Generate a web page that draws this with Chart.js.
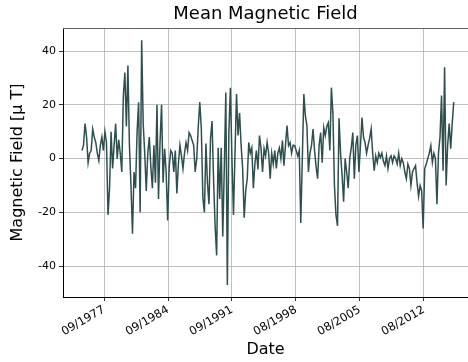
<!DOCTYPE html>
<html lang="en">
<head>
    <meta charset="UTF-8">
    <title>Mean Magnetic Field</title>
    <script src="https://cdn.jsdelivr.net/npm/chart.js"></script>
    <style>
        body {
            margin: 0;
            background-color: white;
        }

        #wrap {
            width: 468px;
            height: 362px;
        }
    </style>
</head>
<body>
    <div id="wrap"><canvas id="fieldChart"></canvas></div>

    <script>
        // samples every two months, starting around 04/1975
        const startYear = 1975.27;
        const stepYears = 1 / 6;

        const fieldValues = [
            3, 5, 13, 8, -1.5, 2, 3, 11, 8, 6,
            2, -0.7, 5, 8, 3, 10, 6, -21, -11, 10,
            -3.7, 5, 13, 0, 7, 2, -5, 23, 32, 12,
            34.6, 5, -10, -28, -5, -11, 10, 21, -20, 44,
            13, 2, -12, 2, 8, -3, -11, 5, -9, 20,
            -15, 6, 20, -9, 3.7, -5, -23, -3, 3, 2,
            -5, 3, -13, -2, 5, 1, -3.7, 2, 6, 3,
            9.7, 8.6, 6.7, 5, -5, 0, 12, 21, 11, -14.5,
            -20, 5.6, -9, -17, 7.5, 14, -8, -25, -36, 4,
            -15, 4, -29, -3.7, 24.6, -47, 10, 26.4, 0, -21,
            2, 24, 8.6, 17, 5, -3.7, -22, -12, -7.5, 6,
            2, 4, -11, -2, 3, -4, 8.6, 4, -5, 3.7,
            1, 6, 2, -7.5, 2, -2, 3, -3.7, 2, 4,
            0, 6.7, -2.6, 5, 12.3, 4.8, 6, 2, 5, 4.8,
            3, 1, 3, -24, 0, 24, 16, 12.3, -5, 2,
            4.8, 11, 3, -3, -7.5, 5, 9.7, -1.5, 11.5, 8.6,
            12, 13.4, 3, 26.4, 16.8, -10, -21, -25, 15, 2,
            -6.3, -16, 0, -5, -11, 0, 4, 9.7, -7.5, 5,
            8.6, -5, 4.8, 15.3, 8, 6, 2, 5, 7.5, 11,
            2, -4.5, 1, -1.5, 2, 0.4, 2, -1, -2.6, 1,
            -3.7, 0, 1, -1.5, 1, 0, -2, 2, -2.6, 0,
            -1.5, -5, -7.5, -2, -3.7, -10, -5, -3.7, -2.6, -9,
            -14, -10, -12, -26, -3.7, -2, 0, 2, 4.8, -1.5,
            2, 0, -17, 2, 8, 23.5, -4.5, 34, -10, 5,
            13, 3.7, 13.4, 21
        ];

        const tickYears = [1977.67, 1984.64, 1991.61, 1998.58, 2005.55, 2012.52];
        const tickLabels = ['09/1977', '09/1984', '09/1991', '08/1998', '08/2005', '08/2012'];
        const yTicks = [-40, -20, 0, 20, 40];

        const points = fieldValues.map((v, i) => ({ x: startYear + i * stepYears, y: v }));

        const font = 'DejaVu Sans';

        // thin top spine like the original frame
        const topFrame = {
            id: 'topFrame',
            afterDraw(chart) {
                const { ctx, chartArea } = chart;
                ctx.save();
                ctx.strokeStyle = '#666';
                ctx.lineWidth = 1;
                ctx.beginPath();
                ctx.moveTo(chartArea.left, chartArea.top + 0.5);
                ctx.lineTo(chartArea.right, chartArea.top + 0.5);
                ctx.stroke();
                ctx.restore();
            }
        };

        new Chart(document.getElementById('fieldChart'), {
            type: 'line',
            data: {
                datasets: [{
                    data: points,
                    borderColor: '#2f4f4f',
                    borderWidth: 1.5,
                    pointRadius: 0,
                    tension: 0
                }]
            },
            options: {
                responsive: true,
                maintainAspectRatio: false,
                animation: false,
                layout: { padding: 0 },
                plugins: {
                    legend: { display: false },
                    tooltip: { enabled: false },
                    title: {
                        display: true,
                        text: 'Mean Magnetic Field',
                        color: '#000',
                        fullSize: false,
                        font: { family: font, size: 18, weight: 'normal', lineHeight: 1.2 },
                        padding: { top: 4, bottom: 2.4 }
                    }
                },
                scales: {
                    x: {
                        type: 'linear',
                        min: 1973.2,
                        max: 2017.32,
                        afterBuildTicks: s => { s.ticks = tickYears.map(v => ({ value: v })); },
                        afterFit: s => { s.height = 65; },
                        ticks: {
                            color: '#000',
                            font: { family: font, size: 11.5 },
                            minRotation: 30,
                            maxRotation: 30,
                            padding: 2,
                            callback: (v, i) => tickLabels[i]
                        },
                        grid: {
                            color: '#b0b0b0',
                            lineWidth: 0.8,
                            tickColor: '#000',
                            tickLength: 4
                        },
                        border: { color: '#000', width: 1 },
                        title: {
                            display: true,
                            text: 'Date',
                            color: '#000',
                            font: { family: font, size: 16, lineHeight: 1.2 },
                            padding: { top: 0, bottom: 2.4 }
                        }
                    },
                    y: {
                        min: -51.5,
                        max: 48.6,
                        afterBuildTicks: s => { s.ticks = yTicks.map(v => ({ value: v })); },
                        afterFit: s => { s.width = 63; },
                        ticks: {
                            color: '#000',
                            font: { family: font, size: 11 },
                            padding: 3
                        },
                        grid: {
                            color: '#b0b0b0',
                            lineWidth: 0.8,
                            tickColor: '#000',
                            tickLength: 4
                        },
                        border: { color: '#000', width: 1 },
                        title: {
                            display: true,
                            text: 'Magnetic Field [μ T]',
                            color: '#000',
                            font: { family: font, size: 16, lineHeight: 1.2 },
                            padding: { top: 8, bottom: 0 }
                        }
                    }
                }
            },
            plugins: [topFrame]
        });
    </script>
</body>
</html>
